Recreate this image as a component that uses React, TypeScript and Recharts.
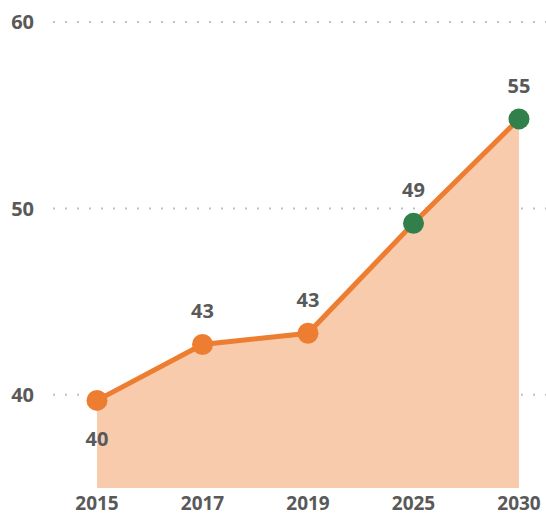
import React from 'react';
import { AreaChart, Area, XAxis, YAxis, CartesianGrid, LabelList } from 'recharts';

const years = ['2015', '2017', '2019', '2025', '2030'];
const values = [39.7, 42.7, 43.3, 49.2, 54.8];
const labels = ['40', '43', '43', '49', '55'];
const projected = [false, false, false, true, true];
const yTicks = [40, 50, 60];

const data = years.map((year, i) => ({ year, value: values[i], label: labels[i], projected: projected[i] }));

const FONT = '"Open Sans", "Noto Sans", sans-serif';
const TEXT = '#595959';
const ORANGE = '#ED7D31';
const GREEN = '#31804C';

const renderDot = (props: any) => {
  const { cx, cy, index } = props;
  return (
    <circle key={`dot-${index}`} cx={cx} cy={cy} r={10.5} fill={data[index].projected ? GREEN : ORANGE} stroke="none" />
  );
};

const renderLabel = (props: any) => {
  const { x, y, value, index } = props;
  // first point has its label underneath
  const ty = index === 0 ? y + 46 : y - 26;
  return (
    <text key={`lbl-${index}`} x={x} y={ty} textAnchor="middle" fill={TEXT} fontSize={20} fontWeight="bold" fontFamily={FONT}>
      {value}
    </text>
  );
};

export default function App() {
  return (
    <div style={{ position: 'absolute', left: 0, top: 0, width: 546, height: 517, background: '#fff' }}>
      <AreaChart width={546} height={517} data={data} margin={{ top: 22, right: 0, bottom: 2, left: 0 }}>
        <CartesianGrid
          vertical={false}
          horizontalValues={yTicks}
          stroke="#BFBFBF"
          strokeWidth={2}
          strokeDasharray="2 10"
        />
        <XAxis
          dataKey="year"
          axisLine={false}
          tickLine={false}
          height={27}
          tickMargin={3}
          padding={{ left: 44, right: 27 }}
          tick={{ fill: TEXT, fontSize: 19, fontWeight: 'bold', fontFamily: FONT }}
        />
        <YAxis
          domain={[35, 60]}
          ticks={yTicks}
          axisLine={false}
          tickLine={false}
          width={53}
          tickMargin={13}
          tick={{ fill: TEXT, fontSize: 20, fontWeight: 'bold', fontFamily: FONT }}
        />
        <Area
          type="linear"
          dataKey="value"
          stroke={ORANGE}
          strokeWidth={5}
          fill="#F8CBAD"
          fillOpacity={1}
          dot={renderDot}
          activeDot={false}
          isAnimationActive={false}
        >
          <LabelList dataKey="label" content={renderLabel} />
        </Area>
      </AreaChart>
    </div>
  );
}
